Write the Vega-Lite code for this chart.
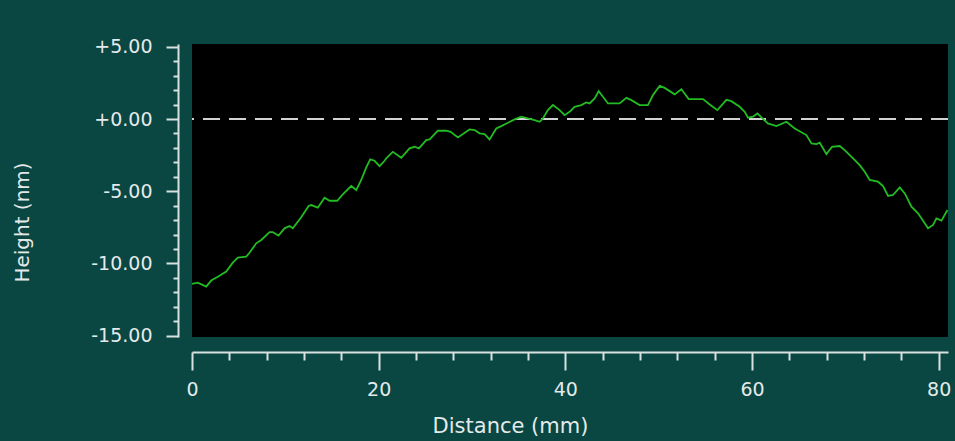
{
  "$schema": "https://vega.github.io/schema/vega-lite/v6.json",
  "width": 756,
  "height": 293,
  "autosize": {"type": "none"},
  "padding": {"left": 192, "top": 44, "right": 7, "bottom": 104},
  "background": "#0a4642",
  "config": {"view": {"fill": "#000000", "stroke": null}, "font": "DejaVu Sans"},
  "layer": [
    {
      "data": {"values": [{"level": 0}]},
      "mark": {"type": "rule", "strokeDash": [17, 9], "color": "#d2d2d2", "strokeWidth": 2},
      "encoding": {"y": {"datum": 0, "type": "quantitative"}}
    },
    {
      "data": {"values": [
        {"d": 0.0, "h": -11.42}, {"d": 0.62, "h": -11.33}, {"d": 1.52, "h": -11.61}, {"d": 2.06, "h": -11.19},
        {"d": 2.77, "h": -10.92}, {"d": 3.67, "h": -10.57}, {"d": 4.37, "h": -9.95}, {"d": 4.91, "h": -9.6},
        {"d": 5.81, "h": -9.53}, {"d": 6.16, "h": -9.26}, {"d": 6.88, "h": -8.61}, {"d": 7.42, "h": -8.38},
        {"d": 8.31, "h": -7.84}, {"d": 8.66, "h": -7.84}, {"d": 9.27, "h": -8.08}, {"d": 9.91, "h": -7.57},
        {"d": 10.45, "h": -7.41}, {"d": 10.8, "h": -7.57}, {"d": 11.7, "h": -6.81}, {"d": 12.49, "h": -6.02},
        {"d": 12.78, "h": -5.96}, {"d": 13.48, "h": -6.14}, {"d": 14.2, "h": -5.45}, {"d": 14.74, "h": -5.66},
        {"d": 15.56, "h": -5.66}, {"d": 16.16, "h": -5.21}, {"d": 17.06, "h": -4.64}, {"d": 17.6, "h": -4.92},
        {"d": 18.13, "h": -4.22}, {"d": 18.67, "h": -3.35}, {"d": 19.1, "h": -2.79}, {"d": 19.56, "h": -2.89},
        {"d": 20.1, "h": -3.26}, {"d": 20.63, "h": -2.89}, {"d": 20.81, "h": -2.72}, {"d": 21.52, "h": -2.27},
        {"d": 22.42, "h": -2.68}, {"d": 23.31, "h": -2.03}, {"d": 23.85, "h": -1.92}, {"d": 24.31, "h": -2.03},
        {"d": 25.1, "h": -1.46}, {"d": 25.46, "h": -1.41}, {"d": 26.34, "h": -0.81}, {"d": 27.25, "h": -0.81},
        {"d": 27.71, "h": -0.88}, {"d": 28.49, "h": -1.27}, {"d": 29.74, "h": -0.72}, {"d": 30.28, "h": -0.76},
        {"d": 30.81, "h": -0.99}, {"d": 31.35, "h": -1.04}, {"d": 31.88, "h": -1.41}, {"d": 32.6, "h": -0.65},
        {"d": 33.14, "h": -0.49}, {"d": 33.85, "h": -0.26}, {"d": 34.57, "h": -0.02}, {"d": 35.28, "h": 0.16},
        {"d": 35.99, "h": 0.04}, {"d": 36.71, "h": -0.07}, {"d": 37.25, "h": -0.19}, {"d": 37.6, "h": 0.04},
        {"d": 38.13, "h": 0.62}, {"d": 38.67, "h": 0.97}, {"d": 39.39, "h": 0.62}, {"d": 39.92, "h": 0.27},
        {"d": 40.46, "h": 0.5}, {"d": 41.0, "h": 0.85}, {"d": 41.71, "h": 0.97}, {"d": 42.25, "h": 1.15},
        {"d": 42.6, "h": 1.08}, {"d": 43.14, "h": 1.43}, {"d": 43.57, "h": 1.93}, {"d": 44.03, "h": 1.54},
        {"d": 44.57, "h": 1.08}, {"d": 45.82, "h": 1.08}, {"d": 46.54, "h": 1.47}, {"d": 47.08, "h": 1.31},
        {"d": 47.96, "h": 0.97}, {"d": 48.85, "h": 0.97}, {"d": 49.39, "h": 1.66}, {"d": 50.11, "h": 2.3},
        {"d": 50.64, "h": 2.16}, {"d": 51.71, "h": 1.71}, {"d": 52.43, "h": 2.07}, {"d": 53.22, "h": 1.38},
        {"d": 53.86, "h": 1.38}, {"d": 54.75, "h": 1.38}, {"d": 55.47, "h": 1.01}, {"d": 56.29, "h": 0.62},
        {"d": 57.26, "h": 1.33}, {"d": 57.79, "h": 1.24}, {"d": 58.68, "h": 0.85}, {"d": 59.22, "h": 0.5},
        {"d": 59.57, "h": 0.09}, {"d": 60.11, "h": 0.16}, {"d": 60.58, "h": 0.39}, {"d": 61.01, "h": 0.11},
        {"d": 61.7, "h": -0.3}, {"d": 62.62, "h": -0.49}, {"d": 63.69, "h": -0.19}, {"d": 64.58, "h": -0.65},
        {"d": 65.83, "h": -1.11}, {"d": 66.37, "h": -1.69}, {"d": 66.9, "h": -1.73}, {"d": 67.26, "h": -1.64},
        {"d": 67.97, "h": -2.43}, {"d": 68.57, "h": -1.92}, {"d": 69.4, "h": -1.87}, {"d": 69.93, "h": -2.15},
        {"d": 70.83, "h": -2.72}, {"d": 71.54, "h": -3.19}, {"d": 72.08, "h": -3.65}, {"d": 72.61, "h": -4.22},
        {"d": 73.5, "h": -4.34}, {"d": 74.04, "h": -4.64}, {"d": 74.58, "h": -5.33}, {"d": 75.11, "h": -5.26},
        {"d": 75.83, "h": -4.73}, {"d": 76.37, "h": -5.15}, {"d": 77.08, "h": -6.07}, {"d": 77.79, "h": -6.53},
        {"d": 78.86, "h": -7.57}, {"d": 79.4, "h": -7.34}, {"d": 79.76, "h": -6.88}, {"d": 80.3, "h": -7.04},
        {"d": 80.94, "h": -6.3}
      ]},
      "mark": {"type": "line", "color": "#22bc22", "strokeWidth": 1.8},
      "encoding": {
        "x": {
          "field": "d", "type": "quantitative",
          "scale": {"domain": [0, 81], "nice": false, "zero": false},
          "axis": {
            "orient": "bottom", "offset": 15, "grid": false, "tickCount": 30,
            "values": [0, 4, 8, 12, 16, 20, 24, 28, 32, 36, 40, 44, 48, 52, 56, 60, 64, 68, 72, 76, 80],
            "domainColor": "#d8e0e0", "domainWidth": 2,
            "tickColor": "#d8e0e0", "tickWidth": 2,
            "tickSize": {"condition": {"test": "datum.value % 20 === 0", "value": 18}, "value": 8},
            "labelExpr": "datum.value % 20 === 0 ? datum.label : ''",
            "labelOverlap": false, "labelFlush": false,
            "labelFontSize": 19, "labelColor": "#e4eaea", "labelPadding": 10,
            "title": "Distance (mm)", "titleFontSize": 21, "titleFontWeight": "normal", "titleColor": "#e4eaea",
            "titleX": 318, "titleY": 74, "titleBaseline": "middle", "titleAlign": "center"
          }
        },
        "y": {
          "field": "h", "type": "quantitative",
          "scale": {"domain": [-15.1, 5.2], "nice": false, "zero": false},
          "axis": {
            "orient": "left", "offset": 14, "grid": false, "tickCount": 30,
            "values": [-15, -14, -13, -12, -11, -10, -9, -8, -7, -6, -5, -4, -3, -2, -1, 0, 1, 2, 3, 4, 5],
            "domainColor": "#d8e0e0", "domainWidth": 2,
            "tickColor": "#d8e0e0", "tickWidth": 2,
            "tickSize": {"condition": {"test": "datum.value % 5 === 0", "value": 12}, "value": 5},
            "labelExpr": "datum.value % 5 === 0 ? (datum.value >= 0 ? '+' : '-') + format(abs(datum.value), '.2f') : ''",
            "labelOverlap": false, "labelFlush": false,
            "labelFontSize": 19, "labelColor": "#e4eaea", "labelPadding": 14,
            "title": "Height (nm)", "titleFontSize": 20, "titleFontWeight": "normal", "titleColor": "#e4eaea",
            "titleX": -156, "titleY": 178, "titleAngle": -90, "titleBaseline": "middle", "titleAlign": "center"
          }
        }
      }
    }
  ]
}
